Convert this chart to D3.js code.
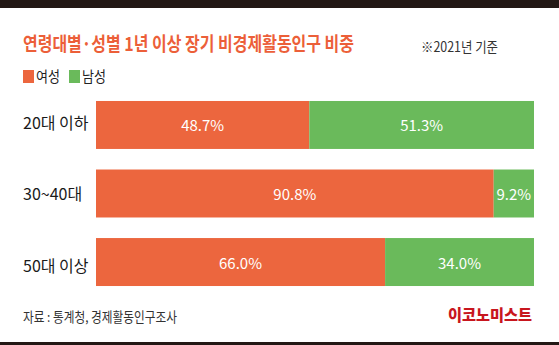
<!DOCTYPE html>
<html><head><meta charset="utf-8">
<script src="https://cdn.jsdelivr.net/npm/d3@7"></script>
<style>
html,body{margin:0;padding:0;background:#fff;}
svg{display:block;font-family:"Noto Sans CJK KR","Noto Sans",sans-serif;}
</style></head>
<body>
<script>
const categories = ["20대 이하", "30~40대", "50대 이상"];
const seriesNames = ["여성", "남성"];
const female = [48.7, 90.8, 66.0];
const male = [51.3, 9.2, 34.0];
const title = "연령대별·성별 1년 이상 장기 비경제활동인구 비중";
const note = "※2021년 기준";
const source = "자료 : 통계청, 경제활동인구조사";
const brand = "이코노미스트";

const W = 559, H = 345;
const colors = ["#ec663e", "#6aba5b"];
const svg = d3.select("body").append("svg").attr("width", W).attr("height", H);

svg.append("rect").attr("x",0).attr("y",0).attr("width",W).attr("height",H).attr("fill","#fff");
svg.append("rect").attr("x",0).attr("y",0).attr("width",W).attr("height",8).attr("fill","#231815");
svg.append("rect").attr("x",0).attr("y",342).attr("width",W).attr("height",3).attr("fill","#231815");

svg.append("text").attr("x",23).attr("y",51).text(title)
  .attr("font-size",19).attr("font-weight",700).attr("fill","#ec5f39")
  .attr("textLength",331).attr("lengthAdjust","spacingAndGlyphs");
svg.append("text").attr("x",421).attr("y",52).text(note)
  .attr("font-size",14).attr("fill","#333")
  .attr("textLength",77).attr("lengthAdjust","spacingAndGlyphs");

// legend
const lx = [23, 69];
seriesNames.forEach((n,i)=>{
  svg.append("rect").attr("x",lx[i]).attr("y",70).attr("width",11).attr("height",13).attr("fill",colors[i]);
  svg.append("text").attr("x",lx[i]+13).attr("y",82).text(n).attr("font-size",14.5).attr("fill","#222")
    .attr("textLength",24).attr("lengthAdjust","spacingAndGlyphs");
});

const x = d3.scaleLinear().domain([0,100]).range([96,534]);
const y = d3.scaleBand().domain(categories).range([90.7,296.3]).paddingInner(0.3).paddingOuter(0.15);
const labelY = d3.scalePoint().domain(categories).range([121.5,265]);

const stack = categories.map((c,i)=>[
  {cat:c, s:0, x0:0, x1:female[i], v:female[i]},
  {cat:c, s:1, x0:female[i], x1:female[i]+male[i], v:male[i]}
]).flat();

svg.selectAll("rect.bar").data(stack).enter().append("rect").attr("class","bar")
  .attr("x",d=>x(d.x0)).attr("y",d=>y(d.cat))
  .attr("width",d=>x(d.x1)-x(d.x0)).attr("height",y.bandwidth())
  .attr("fill",d=>colors[d.s]);

svg.selectAll("text.val").data(stack).enter().append("text").attr("class","val")
  .attr("x",d=>(x(d.x0)+x(d.x1))/2).attr("y",d=>y(d.cat)+y.bandwidth()/2+6.5)
  .attr("text-anchor","middle").attr("font-size",15).attr("fill","#fff")
  .text(d=>d.v.toFixed(1)+"%");

svg.selectAll("text.cat").data(categories).enter().append("text").attr("class","cat")
  .attr("x",23).attr("y",d=>labelY(d)).attr("dominant-baseline","central")
  .attr("font-size",16).attr("fill","#1a1a1a").text(d=>d);

svg.append("text").attr("x",23).attr("y",322).text(source)
  .attr("font-size",13.5).attr("fill","#333")
  .attr("textLength",154).attr("lengthAdjust","spacingAndGlyphs");
svg.append("text").attr("x",448).attr("y",321).text(brand)
  .attr("font-size",16).attr("font-weight",900).attr("fill","#c8161e")
  .attr("textLength",84).attr("lengthAdjust","spacingAndGlyphs");
</script>
</body></html>
